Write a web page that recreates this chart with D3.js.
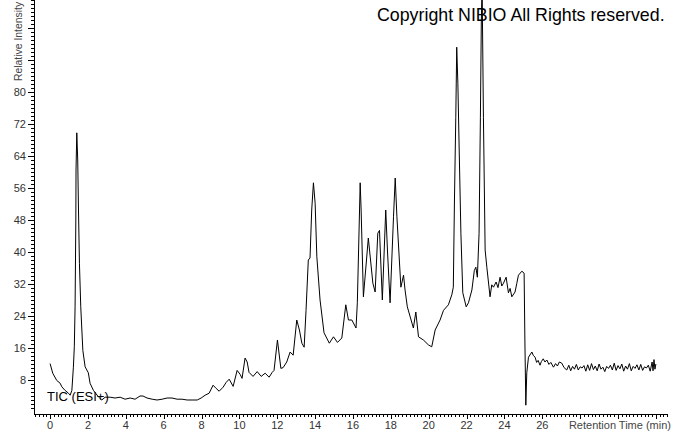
<!DOCTYPE html>
<html><head><meta charset="utf-8">
<script src="https://cdn.jsdelivr.net/npm/d3@7"></script>
<style>
html,body{margin:0;padding:0;background:#fff;}
svg{display:block;}
text{font-family:"Liberation Sans",Arial,sans-serif;}
</style></head>
<body>
<svg id="chart" width="674" height="434"></svg>
<script>
// Retention time (min)
const times = [
0.00,0.14,0.35,0.53,0.62,0.79,0.97,1.06,1.15,1.23,1.28,1.32,1.36,1.37,1.41,1.46,1.50,1.55,1.62,1.73,1.85,2.02,2.11,2.29,2.55,2.73,
2.91,3.17,3.43,3.70,3.96,4.23,4.49,4.75,4.91,5.12,5.39,5.65,5.92,6.18,6.44,6.71,6.97,7.24,7.50,7.77,7.98,8.19,8.40,8.61,8.77,8.93,
9.14,9.30,9.46,9.67,9.88,10.04,10.14,10.30,10.41,10.51,10.72,10.94,11.15,11.36,11.57,11.73,11.83,12.01,12.19,12.31,12.50,12.68,12.84,
13.03,13.17,13.30,13.42,13.52,13.64,13.73,13.82,13.91,14.00,14.09,14.26,14.47,14.75,14.97,15.18,15.41,15.62,15.76,15.94,16.16,16.23,
16.38,16.43,16.55,16.81,17.05,17.17,17.31,17.40,17.55,17.73,17.82,17.96,18.14,18.23,18.32,18.53,18.67,18.75,18.87,19.19,19.32,19.46,
19.72,19.98,20.16,20.34,20.60,20.78,21.04,21.22,21.30,21.36,21.43,21.48,21.54,21.61,21.70,21.80,21.98,22.10,22.28,22.41,22.49,22.57,
22.66,22.73,22.78,22.82,22.89,22.98,23.07,23.24,23.33,23.42,23.56,23.66,23.77,23.86,23.95,24.09,24.21,24.30,24.39,24.56,24.65,24.74,
24.92,25.04,25.08,25.13,25.18,25.27,25.45,25.53,25.62,25.70,25.78,25.88,25.95,26.05,26.14,26.24,26.35,26.45,26.59,26.70,26.80,26.90,
27.03,27.15,27.29,27.40,27.50,27.60,27.70,27.80,27.90,28.00,28.10,28.20,28.30,28.40,28.50,28.60,28.70,28.80,28.90,29.00,29.10,29.20,
29.30,29.40,29.50,29.60,29.70,29.80,29.90,30.00,30.10,30.20,30.30,30.40,30.50,30.60,30.70,30.80,30.90,31.00,31.10,31.20,31.30,31.40,
31.50,31.60,31.70,31.80,31.85,31.90,31.95,32.00
];
// Relative intensity (%)
const intensity = [
12.1,9.7,7.9,7.2,6.3,5.4,4.7,4.2,5.4,11.2,16.3,26.3,48.0,60.5,69.8,63.0,50.5,37.2,26.3,15.4,11.3,9.8,7.2,5.4,3.8,3.0,
3.7,3.7,3.5,3.7,3.2,3.5,3.2,4.0,4.0,3.5,3.2,3.0,3.2,3.5,3.5,3.2,3.2,3.0,3.0,3.0,3.5,4.2,4.7,6.7,5.9,5.2,
6.2,7.4,8.2,6.4,10.4,9.4,8.4,13.5,12.5,9.9,8.9,10.1,8.9,9.7,8.7,9.9,10.4,18.0,10.9,11.1,12.5,15.0,14.2,
23.0,20.5,17.2,16.2,25.4,38.0,38.5,50.5,57.3,52.2,38.8,28.0,19.8,17.2,18.8,17.4,18.5,26.8,23.0,23.0,21.0,27.3,
57.3,50.5,28.8,43.5,32.2,30.0,44.7,45.4,28.0,50.5,40.5,27.3,48.8,58.5,48.8,31.2,34.2,30.5,26.3,21.0,25.0,18.8,
18.0,16.8,16.3,20.5,23.0,25.4,26.8,29.3,31.2,53.0,73.7,91.2,82.2,65.5,44.7,29.8,26.3,27.3,30.5,35.4,36.2,33.7,
44.7,73.7,98.0,107,73.7,40.5,36.2,28.8,31.8,31.2,32.5,31.1,33.7,31.5,32.2,33.7,29.8,30.9,28.8,30.0,32.1,34.2,
35.2,34.7,18.0,1.7,9.8,13.7,15.0,14.1,13.7,12.4,12.9,11.7,12.6,13.3,12.5,13.0,11.9,12.4,11.2,12.1,11.5,12.5,
12.2,11.1,10.5,11.7,10.3,11.4,10.7,11.9,10.5,11.3,11.0,11.6,10.2,11.8,10.4,12.1,10.6,11.5,10.3,12.0,10.7,11.2,
10.1,11.4,10.9,11.7,10.5,12.2,10.4,11.6,10.8,12.0,10.2,11.5,10.7,12.1,10.3,11.4,10.9,11.8,10.5,11.9,10.4,11.3,
11.0,11.7,10.2,12.5,10.3,13.1,10.7,12.0
];
const yTickValues = [8,16,24,32,40,48,56,64,72,80];
const xTickValues = [0,2,4,6,8,10,12,14,16,18,20,22,24,26];

const svg = d3.select("#chart");
const x = d3.scaleLinear().domain([-0.85, 32.64]).range([34, 668]);
const y = d3.scaleLinear().domain([-0.5, 103]).range([414, 0]);

// copyright
svg.append("text").attr("x", 377).attr("y", 21).attr("font-size", 17.8).attr("fill", "#000")
  .text("Copyright NIBIO All Rights reserved.");

// Y axis
const yMinor = d3.range(1, 104).filter(v => v % 8 !== 0);
const gy = svg.append("g").attr("transform", "translate(34,0)");
gy.append("line").attr("x1", 0.5).attr("x2", 0.5).attr("y1", 0).attr("y2", 414).attr("stroke", "#000");
gy.selectAll("line.minor").data(yMinor).join("line").attr("class","minor")
  .attr("x1", -3).attr("x2", 0).attr("y1", d => Math.round(y(d)) + 0.5).attr("y2", d => Math.round(y(d)) + 0.5).attr("stroke", "#000");
gy.selectAll("line.major").data(d3.range(8, 104, 8)).join("line").attr("class","major")
  .attr("x1", -6).attr("x2", 0).attr("y1", d => Math.round(y(d)) + 0.5).attr("y2", d => Math.round(y(d)) + 0.5).attr("stroke", "#000");
gy.selectAll("text").data(yTickValues).join("text")
  .attr("x", -8).attr("y", d => y(d) + 4).attr("text-anchor", "end").attr("font-size", 11).attr("fill", "#333")
  .text(d => d);
svg.append("text").attr("transform", "translate(22,81) rotate(-90)").attr("font-size", 10.4).attr("fill", "#444")
  .text("Relative Intensity");

// X axis
const xMinor = d3.range(-4, 164).map(i => i * 0.2).filter(v => v >= -0.84 && v <= 32.6);
const gx = svg.append("g").attr("transform", "translate(0,414)");
gx.append("line").attr("x1", 34).attr("x2", 668).attr("y1", 0.5).attr("y2", 0.5).attr("stroke", "#000");
gx.selectAll("line.t").data(xMinor).join("line").attr("class","t")
  .attr("x1", d => Math.round(x(d)) + 0.5).attr("x2", d => Math.round(x(d)) + 0.5)
  .attr("y1", 0).attr("y2", d => (Math.abs(d - Math.round(d)) < 1e-6 && Math.round(d) % 2 === 0) ? 5 : 3)
  .attr("stroke", "#000");
gx.selectAll("text").data(xTickValues).join("text")
  .attr("x", d => x(d)).attr("y", 15).attr("text-anchor", "middle").attr("font-size", 11).attr("fill", "#333")
  .text(d => d);
svg.append("text").attr("x", 671).attr("y", 429).attr("text-anchor", "end").attr("font-size", 11).attr("fill", "#444")
  .text("Retention Time (min)");

// clip
svg.append("clipPath").attr("id", "clip").append("rect").attr("x", 35).attr("y", 0).attr("width", 640).attr("height", 414);

const data = times.map((t, i) => [t, intensity[i]]);
svg.append("path").datum(data).attr("clip-path", "url(#clip)")
  .attr("fill", "none").attr("stroke", "#000").attr("stroke-width", 1)
  .attr("d", d3.line().x(d => x(d[0])).y(d => y(d[1])));

svg.append("text").attr("x", 47).attr("y", 401).attr("font-size", 13).attr("fill", "#000")
  .text("TIC (ESI+)");
</script>
</body></html>
